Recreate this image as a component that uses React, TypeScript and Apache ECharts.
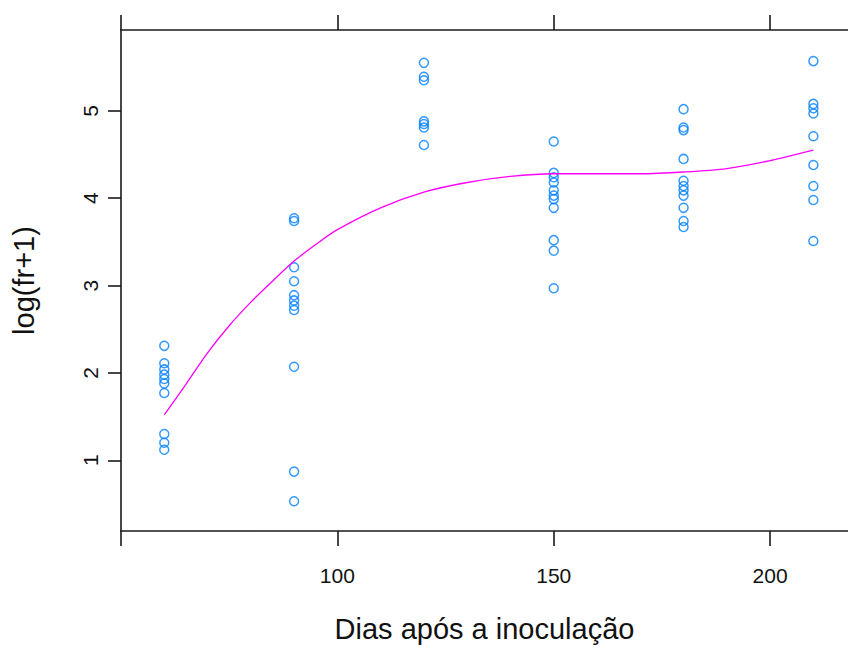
import React, { useEffect, useRef } from "react";
import * as echarts from "echarts";

// Days after inoculation (x groups)
const days = [60, 90, 120, 150, 180, 210];

// log(fr+1) observations per day
const obs60 = [2.31, 2.11, 2.04, 1.98, 1.93, 1.88, 1.77, 1.30, 1.20, 1.12];
const obs90 = [3.77, 3.74, 3.21, 3.05, 2.89, 2.83, 2.77, 2.72, 2.07, 0.87, 0.53];
const obs120 = [5.55, 5.39, 5.35, 4.88, 4.85, 4.81, 4.61];
const obs150 = [4.65, 4.29, 4.24, 4.18, 4.09, 4.03, 3.99, 3.89, 3.52, 3.40, 2.97];
const obs180 = [5.02, 4.81, 4.78, 4.45, 4.20, 4.14, 4.09, 4.03, 3.89, 3.74, 3.67];
const obs210 = [5.57, 5.08, 5.03, 4.97, 4.71, 4.38, 4.14, 3.98, 3.51];

// Smoothed (loess) curve
const curveX = [60, 65, 70, 75, 80, 85, 90, 95, 100, 110, 120, 130, 140, 150, 160, 170, 180, 190, 200, 210];
const curveY = [1.52, 1.87, 2.23, 2.54, 2.81, 3.05, 3.28, 3.47, 3.64, 3.89, 4.07, 4.18, 4.25, 4.28, 4.28, 4.28, 4.30, 4.34, 4.43, 4.55];

// Axis ticks
const xTicks = [50, 100, 150, 200];
const xLabels = [100, 150, 200];
const yTicks = [1, 2, 3, 4, 5];

const xTitle = "Dias após a inoculação";
const yTitle = "log(fr+1)";

const FONT = "Liberation Sans, Arial, sans-serif";

export default function App() {
  const ref = useRef<HTMLDivElement>(null);
  useEffect(() => {
    if (!ref.current) return;
    const chart = echarts.init(ref.current, undefined, { renderer: "svg" });
    const groups = [obs60, obs90, obs120, obs150, obs180, obs210];
    const points: number[][] = [];
    groups.forEach((g, i) => g.forEach((v) => points.push([days[i], v])));
    const curve = curveX.map((x, i) => [x, curveY[i]]);
    const axisLine = { show: true, lineStyle: { color: "#1a1a1a", width: 1.6 } };
    const tickStyle = { color: "#1a1a1a", width: 1.6 };
    chart.setOption({
      animation: false,
      backgroundColor: "#fff",
      grid: { left: 121, top: 30, right: 0, bottom: 116 },
      xAxis: [
        {
          type: "value",
          position: "bottom",
          min: 50,
          max: 218,
          name: xTitle,
          nameLocation: "middle",
          nameGap: 83,
          nameTextStyle: { fontFamily: FONT, fontSize: 29, color: "#111" },
          axisLine,
          axisTick: { show: true, inside: false, length: 15, customValues: xTicks, lineStyle: tickStyle },
          axisLabel: { show: true, customValues: xLabels, margin: 34, fontFamily: FONT, fontSize: 21, color: "#111" },
          splitLine: { show: false },
        },
        {
          type: "value",
          position: "top",
          min: 50,
          max: 218,
          axisLine,
          axisTick: { show: true, inside: false, length: 15, customValues: xTicks, lineStyle: tickStyle },
          axisLabel: { show: false },
          splitLine: { show: false },
        },
      ],
      yAxis: {
        type: "value",
        min: 0.19,
        max: 5.926,
        name: yTitle,
        nameLocation: "middle",
        nameGap: 83,
        nameRotate: 90,
        nameTextStyle: { fontFamily: FONT, fontSize: 29, color: "#111" },
        axisLine,
        axisTick: { show: true, inside: false, length: 13, customValues: yTicks, lineStyle: tickStyle },
        axisLabel: {
          show: true,
          customValues: yTicks,
          rotate: 90,
          margin: 20,
          fontFamily: FONT,
          fontSize: 21,
          color: "#111",
          formatter: (v: number) => String(Math.round(v)),
        },
        splitLine: { show: false },
      },
      series: [
        {
          type: "scatter",
          xAxisIndex: 0,
          data: points,
          symbol: "circle",
          symbolSize: 9,
          itemStyle: { color: "rgba(0,0,0,0)", borderColor: "#0080ff", borderWidth: 1.5 },
        },
        {
          type: "line",
          xAxisIndex: 0,
          data: curve,
          symbol: "none",
          smooth: 0.3,
          lineStyle: { color: "#ff00ff", width: 1.3 },
        },
      ],
    });
    return () => chart.dispose();
  }, []);
  return (
    <div
      ref={ref}
      style={{ position: "fixed", left: 0, top: 0, width: 848, height: 648, background: "#fff" }}
    />
  );
}
